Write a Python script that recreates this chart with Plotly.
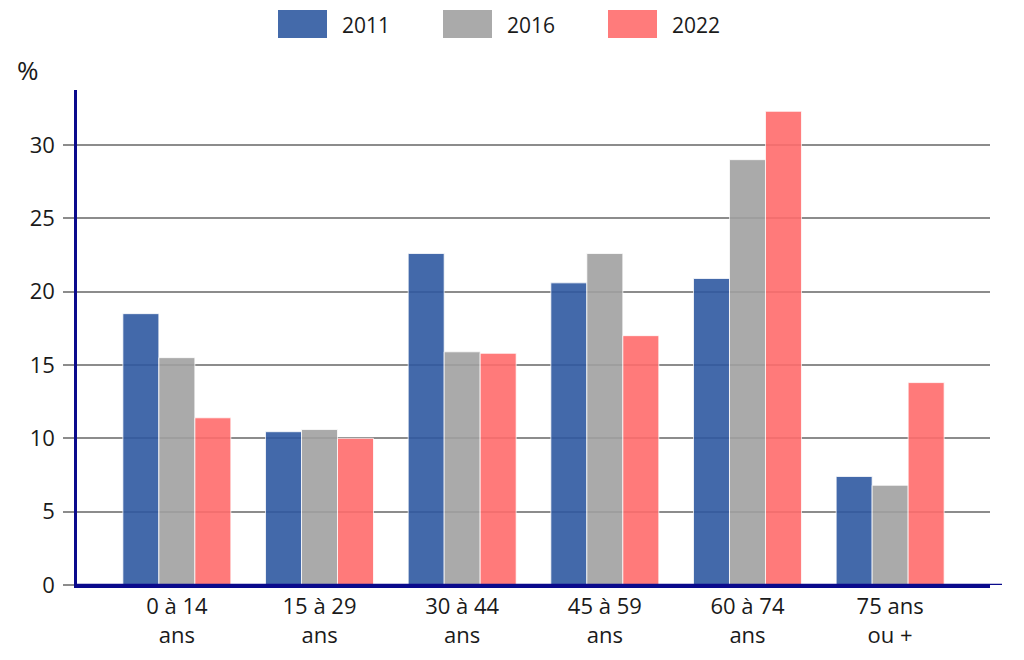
import plotly.graph_objects as go

categories = ["0 à 14<br>ans", "15 à 29<br>ans", "30 à 44<br>ans", "45 à 59<br>ans", "60 à 74<br>ans", "75 ans<br>ou +"]
years = ["2011", "2016", "2022"]
v2011 = [18.5, 10.45, 22.6, 20.6, 20.9, 7.4]
v2016 = [15.5, 10.6, 15.9, 22.6, 29.0, 6.8]
v2022 = [11.4, 10.0, 15.8, 17.0, 32.3, 13.8]
series = [v2011, v2016, v2022]
colors = ["#2f59a1", "#a1a1a1", "#ff6c6c"]
legend_colors = ["#446aaa", "#aaaaaa", "#ff7b7b"]
y_ticks = [0, 5, 10, 15, 20, 25, 30]

OFF = 8  # page body margin
W, H = 1024 - 2 * OFF, 660 - 2 * OFF
# target pixel positions in the window
PL, PR, PT, PB = 77, 990, 90, 585
L, T = PL - OFF, PT - OFF
R = (OFF + W) - PR
B = (OFF + H) - PB
FONT = "Open Sans"
TXT = "#1a1a1a"

def px_x(p):
    return (p - PL) / (PR - PL)

def px_y(p):
    return (PB - p) / (PB - PT)

fig = go.Figure()
for name, vals, col in zip(years, series, colors):
    fig.add_trace(go.Bar(
        x=list(range(len(categories))), y=vals, name=name,
        marker=dict(color=col, opacity=0.9, line=dict(color="white", width=0.8)),
        showlegend=False,
    ))

shapes = []
annotations = []
# manual legend
leg_x = [278, 443, 608]
for i, (name, col) in enumerate(zip(years, legend_colors)):
    x0 = leg_x[i]
    shapes.append(dict(type="rect", xref="paper", yref="paper",
                       x0=px_x(x0), x1=px_x(x0 + 49), y0=px_y(38), y1=px_y(10),
                       fillcolor=col, line=dict(width=0)))
    annotations.append(dict(text=name, xref="paper", yref="paper",
                            x=px_x(x0 + 62), y=px_y(25), xanchor="left", yanchor="middle",
                            showarrow=False, font=dict(family=FONT, size=21, color=TXT)))
# % label
annotations.append(dict(text="%", xref="paper", yref="paper", x=px_x(15), y=px_y(70),
                        xanchor="left", yanchor="middle", showarrow=False,
                        font=dict(family=FONT, size=26, color=TXT)))
# x-axis line extension
shapes.append(dict(type="line", xref="paper", yref="y", x0=0, x1=px_x(1002), y0=0, y1=0,
                   line=dict(color="#0a0a8c", width=2.5)))

fig.update_layout(
    width=W, height=H,
    margin=dict(l=L, r=R, t=T, b=B, autoexpand=False),
    paper_bgcolor="white", plot_bgcolor="white",
    barmode="group", bargap=0.243, bargroupgap=0,
    font=dict(family=FONT, size=20, color=TXT),
    shapes=shapes, annotations=annotations,
    xaxis=dict(
        tickmode="array", tickvals=list(range(len(categories))), ticktext=categories,
        range=[-0.70, 5.70], showgrid=False, zeroline=False, automargin=False,
        showline=True, linecolor="#0a0a8c", linewidth=2.5,
        ticks="", tickfont=dict(family=FONT, size=22, color=TXT),
    ),
    yaxis=dict(
        range=[0, 33.75], tickvals=y_ticks, showgrid=True, gridcolor="#8c8c8c", gridwidth=1.5,
        zeroline=False, showline=True, linecolor="#0a0a8c", linewidth=2.5, automargin=False,
        ticks="outside", ticklen=11, tickcolor="#8c8c8c", tickwidth=1.5,
        ticklabelstandoff=4,
        tickfont=dict(family=FONT, size=22, color=TXT),
    ),
)

fig.write_html("out.html")
